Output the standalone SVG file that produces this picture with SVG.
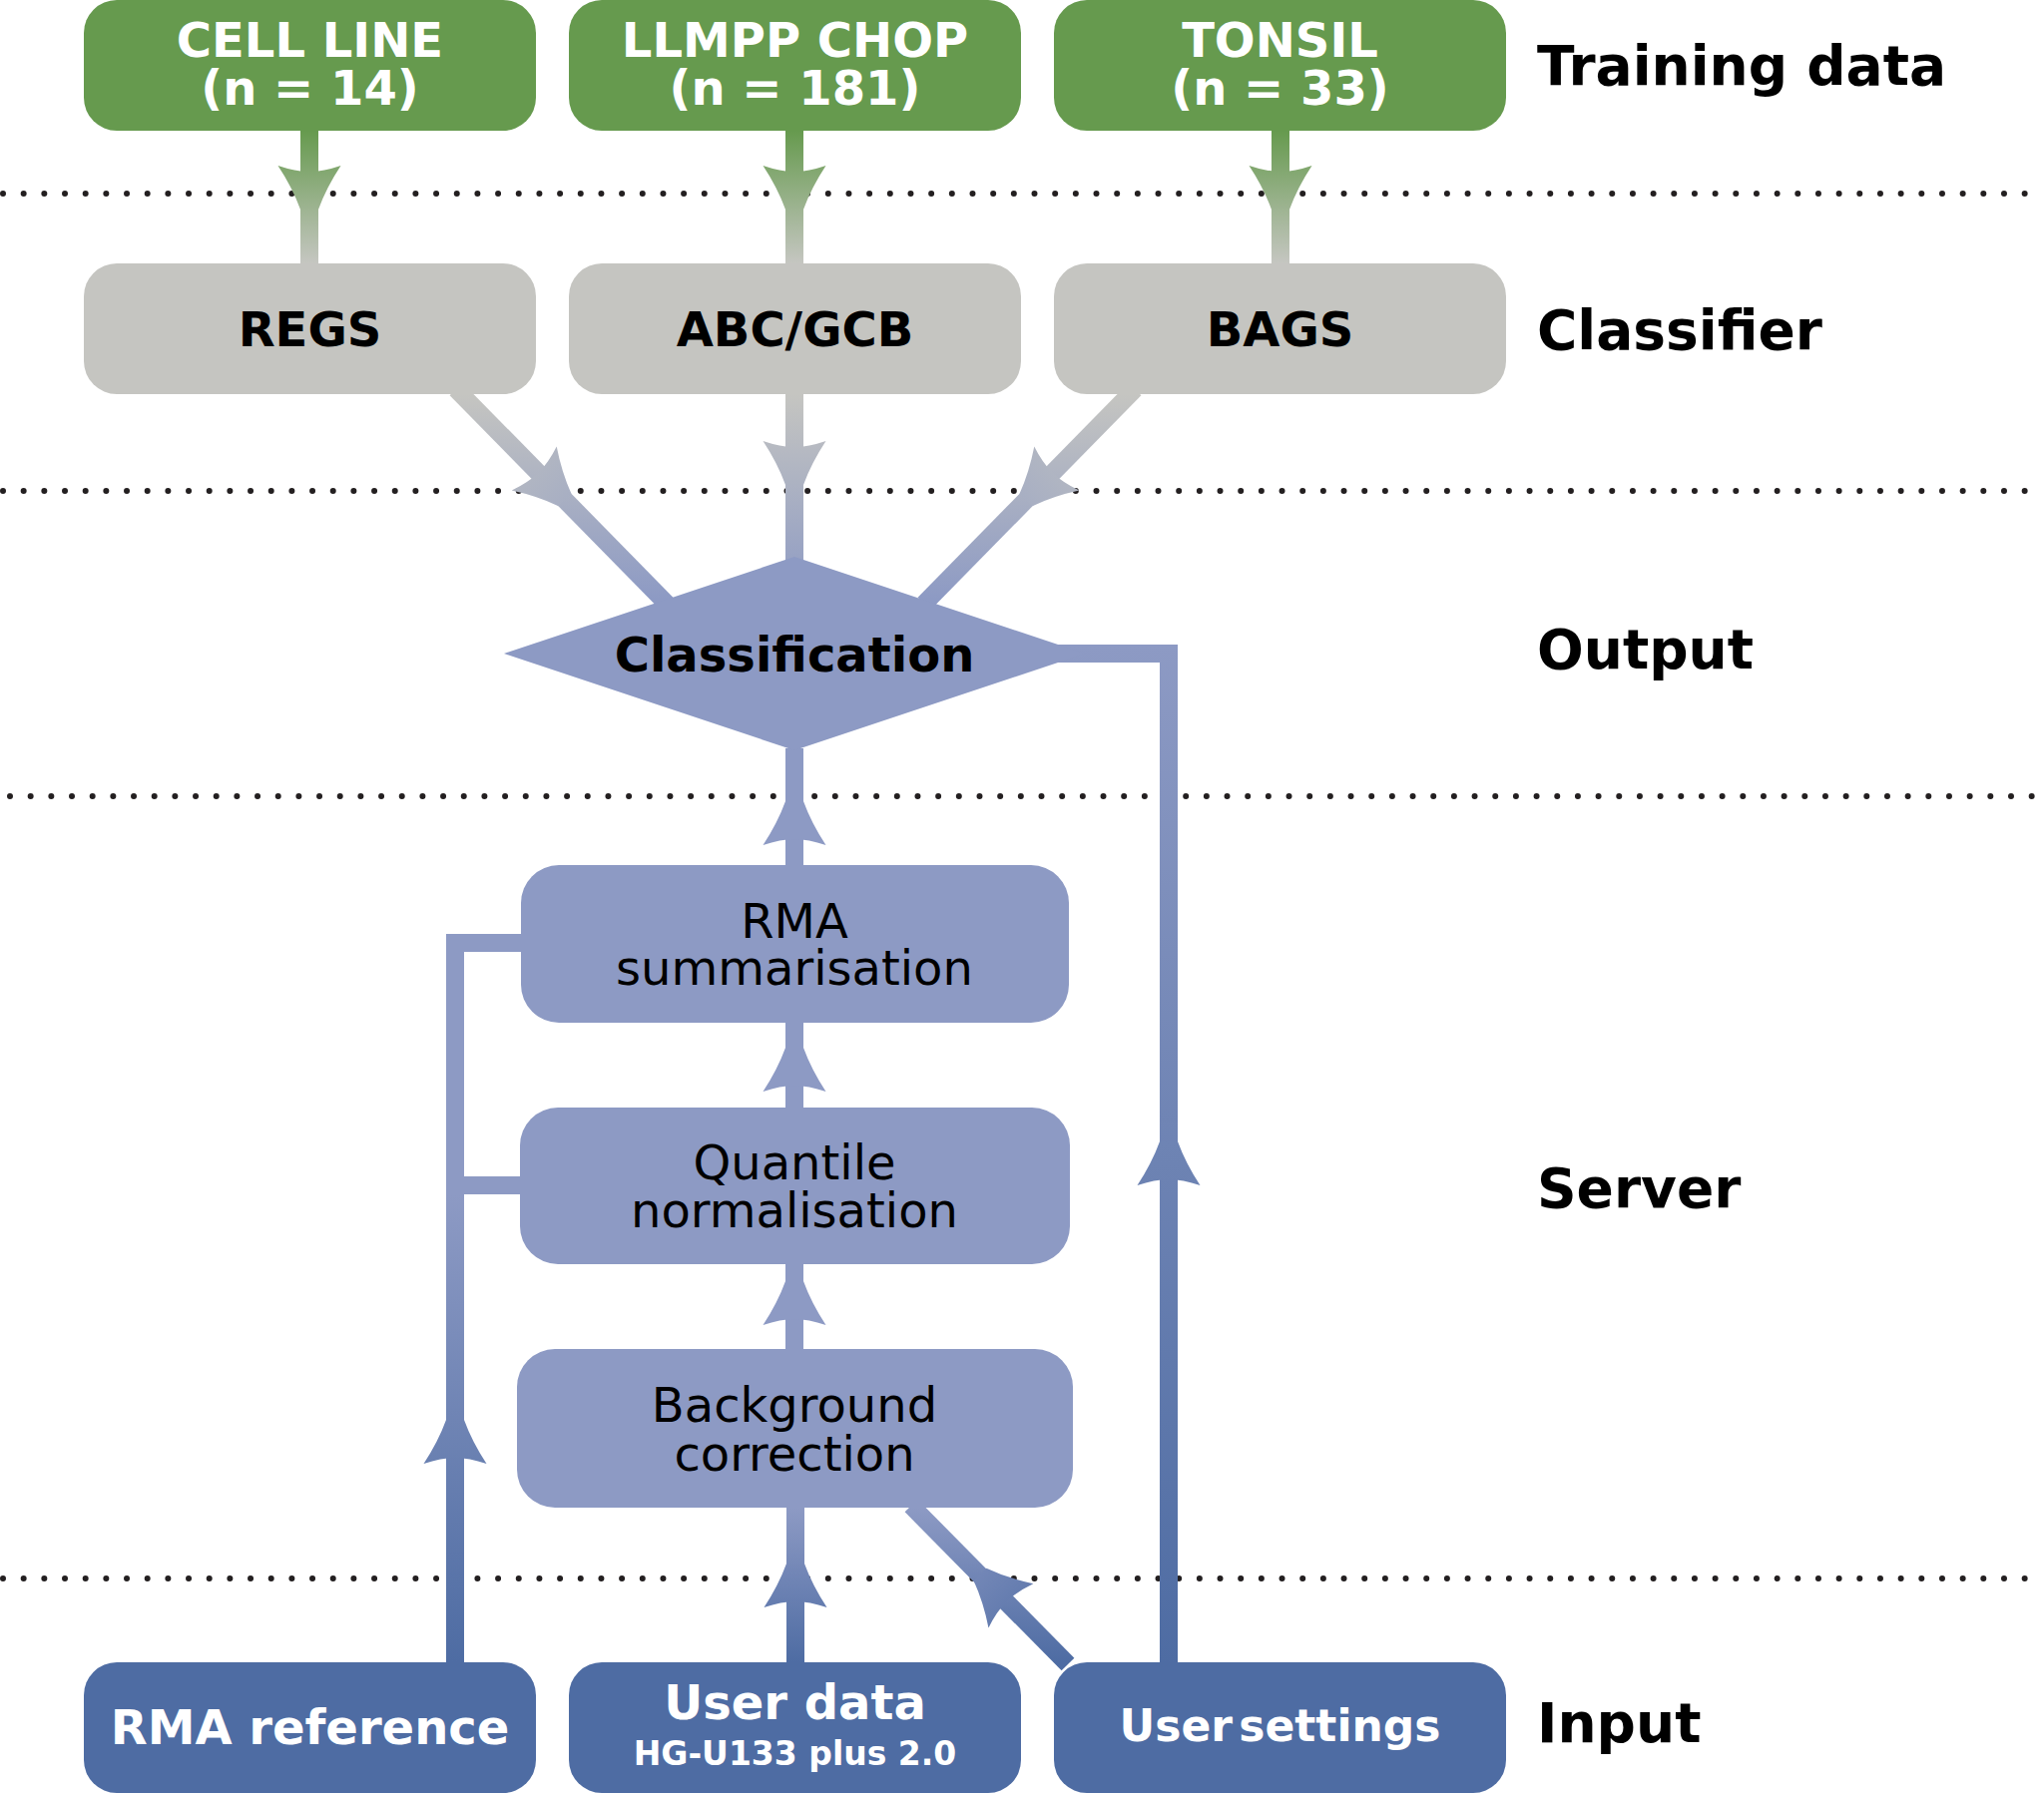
<svg xmlns="http://www.w3.org/2000/svg" width="2048" height="1797" viewBox="0 0 2048 1797">
<style>
.dots{stroke:#231f20;stroke-width:6;stroke-linecap:round;stroke-dasharray:0 20.67;fill:none}
.t{font-family:"DejaVu Sans","Liberation Sans",sans-serif;text-anchor:middle;font-size:48px}
.b{font-weight:bold}
.w{fill:#fff}
.k{fill:#000}
.sec{font-family:"DejaVu Sans","Liberation Sans",sans-serif;font-weight:bold;font-size:55px;fill:#000}
.green{fill:#669a4e}
.gray{fill:#c5c5c1}
.lb{fill:#8d9ac4}
.db{fill:#4e6ca3}
.ln{fill:none;stroke-width:18;stroke-linejoin:miter}
</style>
<defs>
<linearGradient id="gGreen" gradientUnits="userSpaceOnUse" x1="0" y1="131" x2="0" y2="264"><stop offset="0" stop-color="#669a4e"/><stop offset="1" stop-color="#c5c6c1"/></linearGradient>
<linearGradient id="gGray" gradientUnits="userSpaceOnUse" x1="0" y1="395" x2="0" y2="600"><stop offset="0" stop-color="#c5c5c1"/><stop offset="1" stop-color="#8d9ac4"/></linearGradient>
<linearGradient id="gRight" gradientUnits="userSpaceOnUse" x1="0" y1="646" x2="0" y2="1666"><stop offset="0" stop-color="#8d9ac4"/><stop offset="1" stop-color="#4e6ca3"/></linearGradient>
<linearGradient id="gLeft" gradientUnits="userSpaceOnUse" x1="0" y1="1197" x2="0" y2="1666"><stop offset="0" stop-color="#8d9ac4"/><stop offset="1" stop-color="#4e6ca3"/></linearGradient>
<linearGradient id="gBottom" gradientUnits="userSpaceOnUse" x1="0" y1="1511" x2="0" y2="1666"><stop offset="0" stop-color="#8d9ac4"/><stop offset="1" stop-color="#4e6ca3"/></linearGradient>
<linearGradient id="aGreen" x1="0" y1="0" x2="0" y2="1"><stop offset="0" stop-color="#7fa66c"/><stop offset="1" stop-color="#9eb492"/></linearGradient>
<linearGradient id="aGrayV" x1="0" y1="0" x2="0" y2="1"><stop offset="0" stop-color="#b8bbc2"/><stop offset="1" stop-color="#acb2c2"/></linearGradient>
<linearGradient id="aGrayD" x1="0" y1="0" x2="0" y2="1"><stop offset="0" stop-color="#b1b6c2"/><stop offset="1" stop-color="#a8afc3"/></linearGradient>
<linearGradient id="aRight" x1="0" y1="0" x2="0" y2="1"><stop offset="0" stop-color="#6c82b2"/><stop offset="1" stop-color="#6e84b4"/></linearGradient>
<linearGradient id="aLeft" x1="0" y1="0" x2="0" y2="1"><stop offset="0" stop-color="#6980b1"/><stop offset="1" stop-color="#6f84b4"/></linearGradient>
<linearGradient id="aUD" x1="0" y1="0" x2="0" y2="1"><stop offset="0" stop-color="#647caf"/><stop offset="1" stop-color="#7689b8"/></linearGradient>
<linearGradient id="aUS" x1="0" y1="0" x2="0" y2="1"><stop offset="0" stop-color="#647caf"/><stop offset="1" stop-color="#7286b6"/></linearGradient>
<path id="ah" d="M-9,0 Q-17,-22 -31.5,-44 Q-14,-38 0,-38 Q14,-38 31.5,-44 Q17,-22 9,0 Z"/>
</defs>

<g id="separators">
<line class="dots" x1="3" y1="194" x2="2048" y2="194"/>
<line class="dots" x1="3" y1="492" x2="2048" y2="492"/>
<line class="dots" x1="10" y1="798" x2="2048" y2="798"/>
<line class="dots" x1="3" y1="1582" x2="2048" y2="1582"/>
</g>

<g id="connectors">
<path class="ln" stroke="url(#gGreen)" d="M310,131 V264"/>
<path class="ln" stroke="url(#gGreen)" d="M796,131 V264"/>
<path class="ln" stroke="url(#gGreen)" d="M1283,131 V264"/>
<use href="#ah" fill="url(#aGreen)" transform="translate(310,210)"/>
<use href="#ah" fill="url(#aGreen)" transform="translate(796,210)"/>
<use href="#ah" fill="url(#aGreen)" transform="translate(1283,210)"/>

<path class="ln" stroke="url(#gGray)" d="M796,395 V562"/>
<path class="ln" stroke="url(#gGray)" d="M457,390 L668,605"/>
<path class="ln" stroke="url(#gGray)" d="M1137,390 L926,605"/>
<use href="#ah" fill="url(#aGrayV)" transform="translate(796,486)"/>
<use href="#ah" fill="url(#aGrayD)" transform="translate(566,501) rotate(-44.4)"/>
<use href="#ah" fill="url(#aGrayD)" transform="translate(1028,501) rotate(44.4)"/>

<path class="ln" stroke="#8d9ac4" d="M796,750 V869"/>
<path class="ln" stroke="#8d9ac4" d="M796,1023 V1112"/>
<path class="ln" stroke="#8d9ac4" d="M796,1265 V1354"/>
<use href="#ah" fill="#8d9ac4" transform="translate(796,803) rotate(180)"/>
<use href="#ah" fill="#8d9ac4" transform="translate(796,1050) rotate(180)"/>
<use href="#ah" fill="#8d9ac4" transform="translate(796,1284) rotate(180)"/>

<path class="ln" stroke="url(#gBottom)" d="M797,1668 V1509"/>
<use href="#ah" fill="url(#aUD)" transform="translate(797,1567) rotate(180)"/>
<path class="ln" stroke="url(#gBottom)" d="M1070,1668 L913,1509"/>
<use href="#ah" fill="url(#aUS)" transform="translate(982,1578) rotate(135.4)"/>

<path class="ln" stroke="#8d9ac4" d="M456,1197 V945 H524"/>
<path class="ln" stroke="#8d9ac4" d="M447,1188 H523"/>
<path class="ln" stroke="url(#gLeft)" d="M456,1668 V1196"/>
<use href="#ah" fill="url(#aLeft)" transform="translate(456,1423) rotate(180)"/>

<path class="ln" stroke="url(#gRight)" d="M1171,1668 V655 H1060"/>
<use href="#ah" fill="url(#aRight)" transform="translate(1171,1144) rotate(180)"/>
</g>

<g id="cell-line">
<rect class="green" x="84" y="0" width="453" height="131" rx="33"/>
<text class="t b w" x="310.5" y="57">CELL LINE</text>
<text class="t b w" x="310.5" y="105">(n = 14)</text>
</g>
<g id="llmpp-chop">
<rect class="green" x="570" y="0" width="453" height="131" rx="33"/>
<text class="t b w" x="796.5" y="57">LLMPP CHOP</text>
<text class="t b w" x="796.5" y="105">(n = 181)</text>
</g>
<g id="tonsil">
<rect class="green" x="1056" y="0" width="453" height="131" rx="33"/>
<text class="t b w" x="1282.5" y="57">TONSIL</text>
<text class="t b w" x="1282.5" y="105">(n = 33)</text>
</g>

<g id="regs">
<rect class="gray" x="84" y="264" width="453" height="131" rx="33"/>
<text class="t b k" x="310.5" y="347">REGS</text>
</g>
<g id="abc-gcb">
<rect class="gray" x="570" y="264" width="453" height="131" rx="33"/>
<text class="t b k" x="796.5" y="347">ABC/GCB</text>
</g>
<g id="bags">
<rect class="gray" x="1056" y="264" width="453" height="131" rx="33"/>
<text class="t b k" x="1282.5" y="347">BAGS</text>
</g>

<g id="classification">
<polygon class="lb" points="505,655 796,558 1087,655 796,752"/>
<text class="t b k" x="796" y="673">Classification</text>
</g>

<g id="rma-summarisation">
<rect class="lb" x="522" y="867" width="549" height="158" rx="38"/>
<text class="t k" x="796" y="940">RMA</text>
<text class="t k" x="796" y="987">summarisation</text>
</g>
<g id="quantile-normalisation">
<rect class="lb" x="521" y="1110" width="551" height="157" rx="38"/>
<text class="t k" x="796" y="1182">Quantile</text>
<text class="t k" x="796" y="1230">normalisation</text>
</g>
<g id="background-correction">
<rect class="lb" x="518" y="1352" width="557" height="159" rx="38"/>
<text class="t k" x="796" y="1425">Background</text>
<text class="t k" x="796" y="1474">correction</text>
</g>

<g id="rma-reference">
<rect class="db" x="84" y="1666" width="453" height="131" rx="33"/>
<text class="t b w" x="310.5" y="1748" style="font-size:48px">RMA reference</text>
</g>
<g id="user-data">
<rect class="db" x="570" y="1666" width="453" height="131" rx="33"/>
<text class="t b w" x="796.5" y="1723">User data</text>
<text class="t b w" x="796.5" y="1769" style="font-size:33px">HG-U133 plus 2.0</text>
</g>
<g id="user-settings">
<rect class="db" x="1056" y="1666" width="453" height="131" rx="33"/>
<text class="t b w" x="1282.5" y="1745" style="font-size:44px;word-spacing:-9px">User settings</text>
</g>

<g id="section-labels">
<text class="sec" x="1540" y="85">Training data</text>
<text class="sec" x="1540" y="350">Classifier</text>
<text class="sec" x="1540" y="670">Output</text>
<text class="sec" x="1540" y="1210">Server</text>
<text class="sec" x="1540" y="1746">Input</text>
</g>
</svg>
